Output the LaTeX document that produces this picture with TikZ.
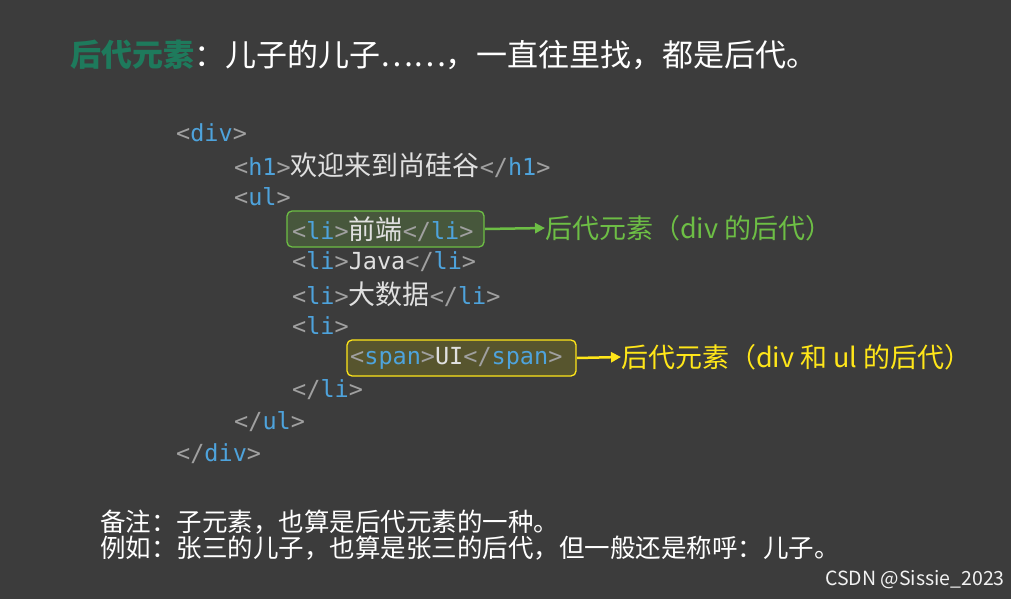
\documentclass[tikz,border=0pt]{standalone}
\usepackage{fontspec}
\setmainfont{Noto Sans CJK SC}
\newfontfamily\cjk{Noto Sans CJK SC}
\newfontfamily\codef{DejaVu Sans Mono}
\usetikzlibrary{arrows.meta}
\definecolor{bg}{HTML}{3C3C3C}
\definecolor{brk}{HTML}{A0A0A0}
\definecolor{tg}{HTML}{4EA3DC}
\definecolor{tx}{HTML}{E0E0E0}
\definecolor{gr}{HTML}{6DBE45}
\definecolor{grfill}{HTML}{4F6A3C}
\definecolor{ye}{HTML}{FFE619}
\definecolor{yefill}{HTML}{6A6626}
\definecolor{ttl}{HTML}{1E7A5C}
\newcommand{\op}[1]{\textcolor{brk}{<}\textcolor{tg}{#1}\textcolor{brk}{>}}
\newcommand{\cl}[1]{\textcolor{brk}{</}\textcolor{tg}{#1}\textcolor{brk}{>}}
\newcommand{\zh}[1]{{\cjk\fontsize{27}{30}\selectfont #1}}
\tikzset{code/.style={anchor=west,inner sep=0pt,font=\codef\fontsize{23.5}{26}\selectfont,text=tx},
 note/.style={anchor=west,inner sep=0pt,font=\cjk\fontsize{25.5}{28}\selectfont,text=white},
 lbl/.style={anchor=west,inner sep=0pt,font=\cjk\fontsize{27}{30}\selectfont}}
\begin{document}
\begin{tikzpicture}[x=1pt,y=-1pt]
\fill[bg] (0,0) rectangle (1011,599);
\useasboundingbox (0,0) rectangle (1011,599);
\node[anchor=west,inner sep=0pt,font=\cjk\fontsize{31}{34}\selectfont\bfseries,text=ttl,draw=white!70!ttl,rounded corners=2pt,line width=0pt,draw opacity=0] (t1) at (70,55) {后代元素};
\node[anchor=west,inner sep=0pt,font=\cjk\fontsize{31}{34}\selectfont,text=white] (t2) at (t1.east) {：儿子的儿子……，一直往里找，都是后代。};
\draw[gr,line width=1.3pt,fill=grfill,fill opacity=0.6,rounded corners=5pt] (287,211) rectangle (484,247);
\draw[ye,line width=1.3pt,fill=yefill,fill opacity=0.6,rounded corners=5pt] (347,340) rectangle (576,376);
\node[code] (c1) at (176,133) {\op{div}};
\node[code] (c2) at (234,165) {\op{h1}\zh{欢迎来到尚硅谷}\cl{h1}};
\node[code] (c3) at (234,197) {\op{ul}};
\node[code] (c4) at (292,229) {\op{li}\zh{前端}\cl{li}};
\node[code] (c5) at (292,262) {\op{li}Java\cl{li}};
\node[code] (c6) at (292,294) {\op{li}\zh{大数据}\cl{li}};
\node[code] (c7) at (292,326) {\op{li}};
\node[code] (c8) at (350,358) {\op{span}UI\cl{span}};
\node[code] (c9) at (292,390) {\cl{li}};
\node[code] (c10) at (234,422) {\cl{ul}};
\node[code] (c11) at (176,454) {\cl{div}};
\node[lbl,text=gr] (g) at (545,228) {后代元素（div 的后代）};
\node[lbl,text=ye] (y) at (621,357) {后代元素（div 和 ul 的后代）};
\coordinate (ga) at (485,229);
\coordinate (ya) at (577,358);
\draw[gr,line width=2.5pt,-{Triangle[length=10pt,width=10pt]}] (ga) -- (g.west);
\draw[ye,line width=2.5pt,-{Triangle[length=10pt,width=10pt]}] (ya) -- (y.west);
\node[note] (n1) at (100,522) {备注：子元素，也算是后代元素的一种。};
\node[note] (n2) at (100,548) {例如：张三的儿子，也算是张三的后代，但一般还是称呼：儿子。};
\node[anchor=west,inner sep=0pt,font=\cjk\fontsize{19.5}{22}\selectfont,text=white!90!gray] (w) at (825,580) {CSDN @Sissie\_2023};
\end{tikzpicture}
\end{document}
